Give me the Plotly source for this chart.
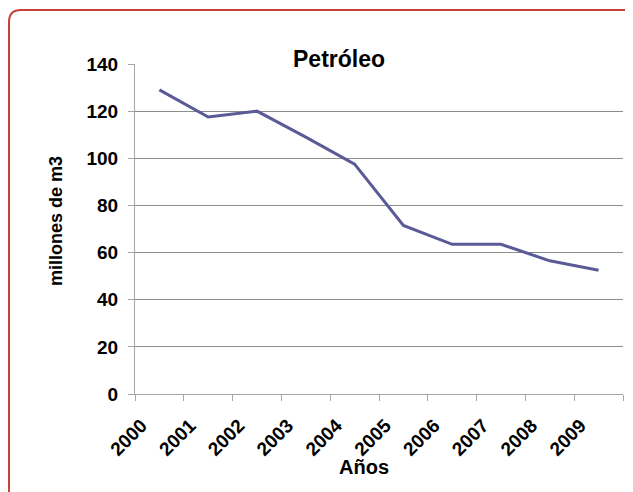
import plotly.graph_objects as go

YEARS = ["2000", "2001", "2002", "2003", "2004", "2005", "2006", "2007", "2008", "2009"]
PETROLEO = [129, 117.5, 120, 109, 97.5, 71.5, 63.5, 63.5, 56.5, 52.5]
Y_TICKS = [0, 20, 40, 60, 80, 100, 120, 140]

# the page body has an 8px margin, so reference pixel positions are shifted
# by 8; whatever spills past the window is simply cut off
OFF = 8
W, H = 633 - OFF, 492 - OFF
L, T = 135 - OFF, 64 - OFF
R, B = W - (623 - OFF), H - (394 - OFF)
PW, PH = W - L - R, H - T - B


def px_x(x):
    return (x - OFF - L) / PW


def px_y(y):
    return (H - B - (y - OFF)) / PH


def rounded_box(x0, y0, x1, y1, r):
    """Rounded rectangle path in paper coords from reference pixel corners."""
    pts = [
        f"M {px_x(x0 + r)},{px_y(y0)}",
        f"L {px_x(x1 - r)},{px_y(y0)}",
        f"Q {px_x(x1)},{px_y(y0)} {px_x(x1)},{px_y(y0 + r)}",
        f"L {px_x(x1)},{px_y(y1 - r)}",
        f"Q {px_x(x1)},{px_y(y1)} {px_x(x1 - r)},{px_y(y1)}",
        f"L {px_x(x0 + r)},{px_y(y1)}",
        f"Q {px_x(x0)},{px_y(y1)} {px_x(x0)},{px_y(y1 - r)}",
        f"L {px_x(x0)},{px_y(y0 + r)}",
        f"Q {px_x(x0)},{px_y(y0)} {px_x(x0 + r)},{px_y(y0)}",
        "Z",
    ]
    return " ".join(pts)


FONT = "Liberation Sans, Arial, sans-serif"

fig = go.Figure(
    go.Scatter(
        x=YEARS,
        y=PETROLEO,
        mode="lines",
        line={"color": "#5A5A96", "width": 3},
        hoverinfo="skip",
    )
)

fig.update_layout(
    width=W,
    height=H,
    margin={"l": L, "r": R, "t": T, "b": B, "autoexpand": False},
    paper_bgcolor="white",
    plot_bgcolor="white",
    showlegend=False,
    font={"family": FONT, "color": "black"},
    shapes=[
        {
            "type": "path",
            "xref": "paper",
            "yref": "paper",
            "path": rounded_box(9, 10, 642, 502, 12),
            "line": {"color": "#C8403A", "width": 2},
            "layer": "below",
        }
    ],
    annotations=[
        {
            "text": "Petróleo",
            "xref": "paper", "yref": "paper",
            "x": px_x(339), "y": px_y(44),
            "showarrow": False,
            "font": {"size": 23, "weight": "bold"},
        },
        {
            "text": "millones de m3",
            "xref": "paper", "yref": "paper",
            "x": px_x(44), "y": px_y(221),
            "textangle": -90,
            "showarrow": False,
            "font": {"size": 18, "weight": "bold"},
        },
        {
            "text": "Años",
            "xref": "paper", "yref": "paper",
            "x": px_x(364), "y": px_y(480),
            "showarrow": False,
            "font": {"size": 20, "weight": "bold"},
        },
    ],
)

fig.update_xaxes(
    type="category",
    range=[-0.5, len(YEARS) - 0.5],
    automargin=False,
    tickson="boundaries",
    ticks="outside",
    ticklen=6,
    tickcolor="#A6A6A6",
    showgrid=False,
    showline=True,
    linecolor="#A6A6A6",
    tickangle=-45,
    tickfont={"size": 19, "family": FONT, "weight": "bold"},
    ticklabelshift=-18,
    ticklabelstandoff=12,
)
fig.update_yaxes(
    automargin=False,
    range=[0, 140],
    tickvals=Y_TICKS,
    ticks="outside",
    ticklen=6,
    tickcolor="#A6A6A6",
    showgrid=True,
    gridcolor="#8C8C8C",
    gridwidth=1,
    showline=True,
    linecolor="#A6A6A6",
    zeroline=False,
    tickfont={"size": 19, "family": FONT, "weight": "bold"},
    ticklabelstandoff=6,
)

fig.write_html("out.html")
